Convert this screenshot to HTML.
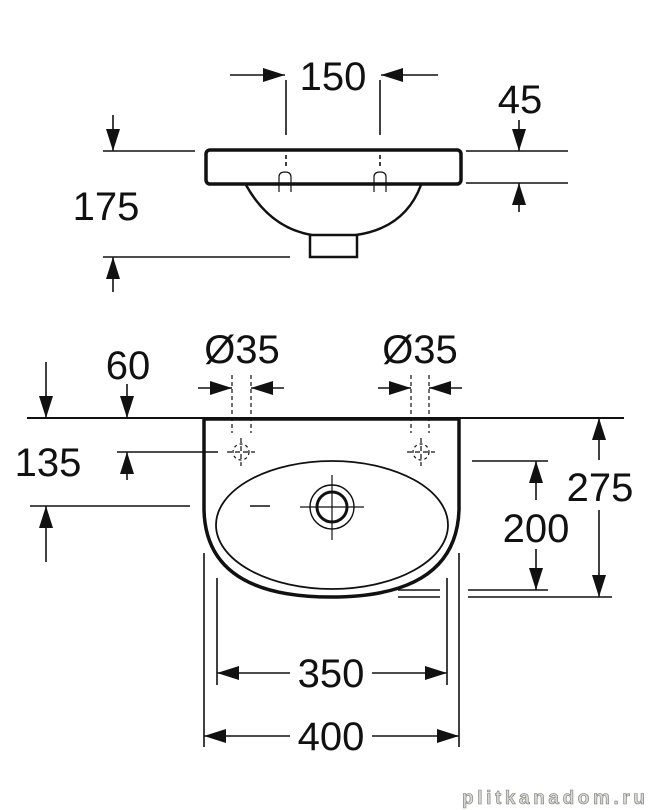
<!DOCTYPE html>
<html><head><meta charset="utf-8"><style>
html,body{margin:0;padding:0;background:#fff;}
svg{display:block;}
text{font-family:"Liberation Sans",sans-serif;fill:#111;}
</style></head><body>
<svg width="650" height="810" viewBox="0 0 650 810" xmlns="http://www.w3.org/2000/svg">
<defs>
<marker id="a" viewBox="0 0 22 14" refX="22" refY="7" markerWidth="22" markerHeight="14" markerUnits="userSpaceOnUse" orient="auto">
<path d="M0,0 L22,7 L0,14 Z" fill="#111"/></marker>
</defs>
<g stroke="#111" fill="none" stroke-width="1.6">
<rect x="206" y="150" width="255" height="34" rx="4" stroke-width="3.5"/>
<path d="M246,185 Q270,228 312,235 L356,235 Q405,228 421,185" stroke-width="2.5"/>
<path d="M310,235 V257 H357 V235" stroke-width="2.5"/>
<line x1="286" y1="80" x2="286" y2="135"/>
<line x1="380" y1="80" x2="380" y2="135"/>
<line x1="286" y1="155" x2="286" y2="166" stroke-dasharray="4,3"/>
<line x1="380" y1="155" x2="380" y2="166" stroke-dasharray="4,3"/>
<path d="M279,192 V177 Q279,172 285,172 Q291,172 291,177 V192" stroke-width="1.2"/>
<path d="M374,192 V177 Q374,172 380,172 Q386,172 386,177 V192" stroke-width="1.2"/>
<line x1="230" y1="75" x2="285" y2="75" marker-end="url(#a)"/>
<line x1="438" y1="75" x2="381" y2="75" marker-end="url(#a)"/>
<line x1="466" y1="151" x2="568" y2="151"/>
<line x1="466" y1="183" x2="568" y2="183"/>
<line x1="519" y1="120" x2="519" y2="151" marker-end="url(#a)"/>
<line x1="519" y1="212" x2="519" y2="183" marker-end="url(#a)"/>
<line x1="103" y1="151" x2="195" y2="151"/>
<line x1="103" y1="257" x2="290" y2="257"/>
<line x1="113" y1="115" x2="113" y2="151" marker-end="url(#a)"/>
<line x1="113" y1="292" x2="113" y2="257" marker-end="url(#a)"/>

<line x1="27" y1="418" x2="624" y2="418" stroke-width="2"/>
<path d="M204,418 V510 Q206,597 331,597 Q456,597 459,510 V418" stroke-width="3.5"/>
<line x1="204" y1="419" x2="459" y2="419" stroke-width="3.5"/>
<path d="M216,525 A116,64 0 0 1 448,525 A116,64 0 0 1 216,525 Z" stroke-width="1.8"/>
<circle cx="332" cy="507" r="22" stroke-width="1.4"/>
<circle cx="332" cy="507" r="15" stroke-width="3"/>
<line x1="300" y1="507" x2="364" y2="507" stroke-width="1.2"/>
<line x1="332" y1="475" x2="332" y2="540" stroke-width="1.2"/>
<line x1="250" y1="506" x2="270" y2="506"/>
<g stroke-width="1.2">
<circle cx="241" cy="452" r="8" stroke-dasharray="3,3"/>
<line x1="227" y1="452" x2="255" y2="452" stroke-dasharray="5,3"/>
<line x1="241" y1="438" x2="241" y2="466" stroke-dasharray="5,3"/>
<circle cx="421" cy="452" r="8" stroke-dasharray="3,3"/>
<line x1="407" y1="452" x2="435" y2="452" stroke-dasharray="5,3"/>
<line x1="421" y1="438" x2="421" y2="466" stroke-dasharray="5,3"/>
<line x1="232" y1="375" x2="232" y2="433" stroke-dasharray="4,3"/>
<line x1="251" y1="375" x2="251" y2="433" stroke-dasharray="4,3"/>
<line x1="411" y1="375" x2="411" y2="433" stroke-dasharray="4,3"/>
<line x1="429" y1="375" x2="429" y2="433" stroke-dasharray="4,3"/>
</g>
<line x1="198" y1="388" x2="232" y2="388" marker-end="url(#a)"/>
<line x1="284" y1="388" x2="251" y2="388" marker-end="url(#a)"/>
<line x1="378" y1="388" x2="411" y2="388" marker-end="url(#a)"/>
<line x1="462" y1="388" x2="429" y2="388" marker-end="url(#a)"/>
<line x1="46" y1="362" x2="46" y2="418" marker-end="url(#a)"/>
<line x1="127" y1="384" x2="127" y2="418" marker-end="url(#a)"/>
<line x1="117" y1="452" x2="218" y2="452"/>
<line x1="127" y1="480" x2="127" y2="452" marker-end="url(#a)"/>
<line x1="30" y1="506" x2="190" y2="506"/>
<line x1="46" y1="562" x2="46" y2="506" marker-end="url(#a)"/>
<line x1="472" y1="461" x2="548" y2="461"/>
<line x1="468" y1="590" x2="548" y2="590"/>
<line x1="468" y1="597" x2="612" y2="597"/>
<line x1="398" y1="590" x2="440" y2="590"/>
<line x1="398" y1="597" x2="440" y2="597"/>
<line x1="536" y1="500" x2="536" y2="461" marker-end="url(#a)"/>
<line x1="536" y1="549" x2="536" y2="590" marker-end="url(#a)"/>
<line x1="599" y1="460" x2="599" y2="418" marker-end="url(#a)"/>
<line x1="599" y1="510" x2="599" y2="597" marker-end="url(#a)"/>
<line x1="204" y1="553" x2="204" y2="747"/>
<line x1="459" y1="553" x2="459" y2="747"/>
<line x1="217" y1="578" x2="217" y2="685"/>
<line x1="447" y1="578" x2="447" y2="685"/>
<line x1="290" y1="673" x2="217" y2="673" marker-end="url(#a)"/>
<line x1="372" y1="673" x2="447" y2="673" marker-end="url(#a)"/>
<line x1="290" y1="736" x2="204" y2="736" marker-end="url(#a)"/>
<line x1="372" y1="736" x2="459" y2="736" marker-end="url(#a)"/>
</g>
<g font-size="40" text-anchor="middle">
<text x="333" y="90">150</text>
<text x="520" y="113">45</text>
<text x="106" y="220">175</text>
<text x="128" y="379">60</text>
<text x="242" y="363">Ø35</text>
<text x="420" y="363">Ø35</text>
<text x="48" y="476">135</text>
<text x="600" y="501">275</text>
<text x="536" y="542">200</text>
<text x="331" y="687">350</text>
<text x="331" y="750">400</text>
</g>
<text x="645" y="804" font-size="19" font-weight="bold" text-anchor="end" textLength="183" style="fill:#d8d8d0;stroke:#777;stroke-width:0.6">plitkanadom.ru</text>
</svg>
</body></html>
